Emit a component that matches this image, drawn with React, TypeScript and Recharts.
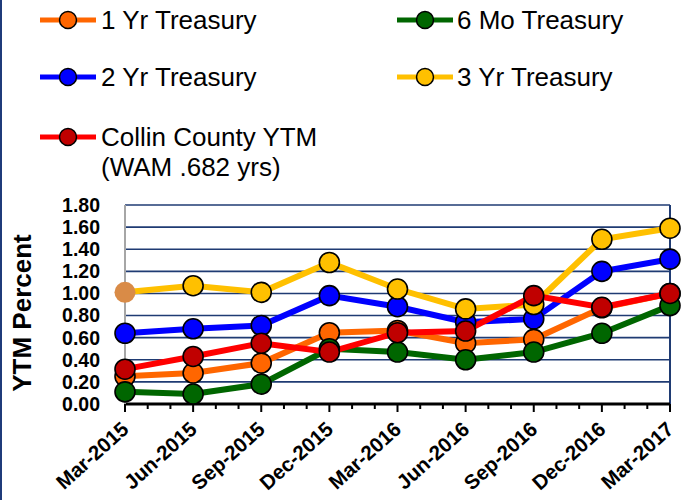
import React from 'react';
import { LineChart, Line, XAxis, YAxis, CartesianGrid, ReferenceLine } from 'recharts';

const monthIndex = [0, 3, 6, 9, 12, 15, 18, 21, 24];
const monthLabels = ['Mar-2015', 'Jun-2015', 'Sep-2015', 'Dec-2015', 'Mar-2016', 'Jun-2016', 'Sep-2016', 'Dec-2016', 'Mar-2017'];
const oneYr = [0.25, 0.28, 0.37, 0.645, 0.665, 0.55, 0.585, 0.87, 1.0];
const sixMo = [0.11, 0.09, 0.18, 0.5, 0.47, 0.4, 0.47, 0.64, 0.89];
const twoYr = [0.64, 0.68, 0.71, 0.98, 0.88, 0.74, 0.77, 1.2, 1.31];
const threeYr = [1.01, 1.07, 1.01, 1.28, 1.04, 0.86, 0.9, 1.49, 1.59];
const collin = [0.315, 0.43, 0.55, 0.47, 0.645, 0.66, 0.98, 0.875, 1.0];
const yTicks = [0, 0.2, 0.4, 0.6, 0.8, 1.0, 1.2, 1.4, 1.6, 1.8];
const allMonths = Array.from({ length: 25 }, (_, i) => i);

const data = monthIndex.map((m, i) => ({
  m,
  oneYr: oneYr[i],
  sixMo: sixMo[i],
  twoYr: twoYr[i],
  threeYr: threeYr[i],
  collin: collin[i],
}));

const series = [
  { key: 'oneYr', name: '1 Yr Treasury', line: '#FF6600', fill: '#FF6600' },
  { key: 'sixMo', name: '6 Mo Treasury', line: '#006600', fill: '#006600' },
  { key: 'twoYr', name: '2 Yr Treasury', line: '#0000FF', fill: '#0000FF' },
  { key: 'threeYr', name: '3 Yr Treasury', line: '#FFC000', fill: '#FFC000' },
  { key: 'collin', name: 'Collin County YTM\n(WAM .682 yrs)', line: '#FF0000', fill: '#C00000' },
];

const FONT = '"Liberation Sans", Arial, sans-serif';

const XTick = (props: any) => {
  const { x, y, payload } = props;
  const v = payload.value as number;
  const major = v % 3 === 0;
  const idx = monthIndex.indexOf(v);
  const px = x + 5;
  const py = y + 27;
  return (
    <g>
      <line x1={x} y1={y} x2={x} y2={y + (major ? 8 : 5)} stroke="#000" strokeWidth={2} />
      {major && idx >= 0 && (
        <text
          x={px}
          y={py}
          transform={`rotate(-42 ${px} ${py})`}
          textAnchor="end"
          fontFamily={FONT}
          fontWeight="bold"
          fontSize={20.5}
          fill="#000"
        >
          {monthLabels[idx]}
        </text>
      )}
    </g>
  );
};

const makeDot = (fill: string, specialFirst?: string) => (props: any) => {
  const { cx, cy, index } = props;
  if (cx == null || cy == null) return <g key={`d${index}`} />;
  if (specialFirst && index === 0) {
    return <circle key={`d${index}`} cx={cx} cy={cy} r={10.5} fill={specialFirst} stroke="none" />;
  }
  return <circle key={`d${index}`} cx={cx} cy={cy} r={10} fill={fill} stroke="#000" strokeWidth={1.6} />;
};

const LegendIcon = ({ line, fill }: { line: string; fill: string }) => (
  <svg width={56} height={22} style={{ display: 'block' }}>
    <line x1={0} y1={11} x2={56} y2={11} stroke={line} strokeWidth={5} />
    <circle cx={28} cy={11} r={8.5} fill={fill} stroke="#000" strokeWidth={1.5} />
  </svg>
);

const legendPos = [
  { iconX: 40, textX: 101, y: 20 },
  { iconX: 397, textX: 457, y: 20 },
  { iconX: 40, textX: 101, y: 77 },
  { iconX: 397, textX: 457, y: 77 },
  { iconX: 40, textX: 101, y: 137 },
];

export default function App() {
  return (
    <div style={{ position: 'absolute', left: 0, top: 0, width: 690, height: 500, background: '#fff', overflow: 'hidden' }}>
      <div style={{ position: 'absolute', left: 0, top: 0, width: 2, height: 500, background: '#1F3B7A' }} />
      {series.map((s, i) => {
        const p = legendPos[i];
        const lines = s.name.split('\n');
        return (
          <React.Fragment key={s.key}>
            <div style={{ position: 'absolute', left: p.iconX, top: p.y - 11 }}>
              <LegendIcon line={s.line} fill={s.fill} />
            </div>
            <div
              style={{
                position: 'absolute',
                left: p.textX,
                top: p.y - 15,
                fontFamily: FONT,
                fontSize: 26,
                lineHeight: '30px',
                color: '#000',
                whiteSpace: 'nowrap',
              }}
            >
              {lines.map((l, j) => (
                <div key={j}>{l}</div>
              ))}
            </div>
          </React.Fragment>
        );
      })}
      <div style={{ position: 'absolute', left: 0, top: 0 }}>
        <LineChart width={690} height={500} data={data} margin={{ top: 205, right: 20, bottom: 6, left: 65 }}>
          <CartesianGrid vertical={false} stroke="#1F3B73" strokeWidth={1.6} />
          <XAxis
            dataKey="m"
            type="number"
            domain={[0, 24]}
            ticks={allMonths}
            interval={0}
            tickLine={false}
            tickSize={0}
            tickMargin={0}
            tick={<XTick />}
            axisLine={{ stroke: '#000', strokeWidth: 3 }}
            height={90}
          />
          <YAxis
            domain={[0, 1.8]}
            ticks={yTicks}
            interval={0}
            tickFormatter={(v: number) => v.toFixed(2)}
            tickLine={false}
            tickSize={0}
            tickMargin={25}
            axisLine={{ stroke: '#A6A6A6', strokeWidth: 2 }}
            tick={{ fontFamily: FONT, fontWeight: 'bold', fontSize: 19.5, fill: '#000' }}
            width={60}
            label={{
              content: () => (
                <text
                  x={22}
                  y={313}
                  transform="rotate(-90 22 313)"
                  textAnchor="middle"
                  dominantBaseline="central"
                  fontFamily={FONT}
                  fontWeight="bold"
                  fontSize={26}
                  fill="#000"
                >
                  YTM Percent
                </text>
              ),
            }}
          />
          <ReferenceLine x={24} stroke="#1F3B73" strokeWidth={2} />
          {series.map((s) => (
            <Line
              key={s.key}
              dataKey={s.key}
              name={s.name}
              type="linear"
              stroke={s.line}
              strokeWidth={6}
              dot={makeDot(s.fill, s.key === 'threeYr' ? '#D98B47' : undefined)}
              activeDot={false}
              isAnimationActive={false}
            />
          ))}
        </LineChart>
      </div>
    </div>
  );
}
